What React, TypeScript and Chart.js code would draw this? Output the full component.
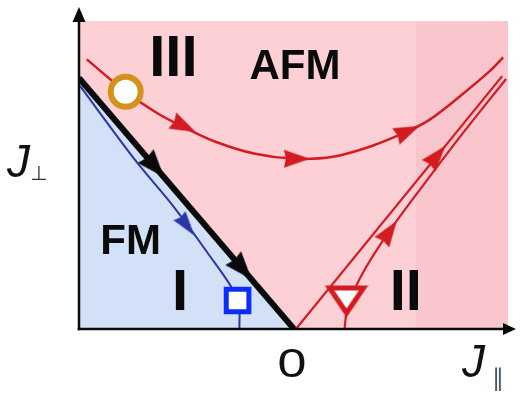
import React, { useEffect, useRef } from "react";
import { Chart, registerables } from "chart.js";

Chart.register(...registerables);

// ---- axis ranges (J_parallel horizontal, J_perp vertical) ----
const X_MIN = -1.105;
const X_MAX = 1.1;
const Y_MIN = 0;
const Y_MAX = 1.565;
const BAND_START = 0.625;

// ---- separatrix between FM and AFM (thick black line) ----
const separatrixX = [-1.105, 0];
const separatrixY = [1.275, 0];

// ---- flow in region I (blue) ----
const flowIX = [-1.1, -0.81, -0.625, -0.45, -0.29, -0.28];
const flowIY = [1.235, 0.85, 0.63, 0.395, 0.155, 0];

// ---- flow in region III (red curve) ----
const flowIIIX = [-1.065, -0.865, -0.7, -0.565, -0.4, -0.2, 0, 0.2, 0.4, 0.585, 0.7, 0.85, 1.0, 1.075];
const flowIIIY = [1.37, 1.205, 1.095, 1.025, 0.95, 0.89, 0.865, 0.875, 0.93, 1.005, 1.065, 1.18, 1.305, 1.38];

// ---- line from origin in region II ----
const criticalX = [0.01, 1.07];
const criticalY = [0, 1.285];

// ---- flow in region II (red hyperbola) ----
const flowIIX = [0.26, 0.27, 0.29, 0.335, 0.41, 0.51, 0.66, 0.86, 1.09];
const flowIIY = [0, 0.085, 0.15, 0.25, 0.3775, 0.525, 0.725, 0.985, 1.27];

// ---- arrows (position + direction in degrees clockwise from up) ----
const blackArrowX = [-0.715, -0.265];
const blackArrowY = [0.825, 0.306];
const blackArrowRot = [139, 139];
const blueArrowX = [-0.55];
const blueArrowY = [0.525];
const blueArrowRot = [143];
const redArrowX = [-0.565, 0.015, 0.585, 0.49, 0.735];
const redArrowY = [1.03, 0.865, 1.005, 0.495, 0.88];
const redArrowRot = [116, 90, 66, 35, 40];

// ---- fixed-point markers ----
const circleX = [-0.865];
const circleY = [1.205];
const squareX = [-0.29];
const squareY = [0.145];
const triangleX = [0.27];
const triangleY = [0.145];

// ---- labels ----
const regionLabels = ["III", "AFM", "FM", "I", "II"];
const regionLabelX = [-0.62, 0.005, -0.84, -0.585, 0.575];
const regionLabelY = [1.285, 1.27, 0.38, 0.095, 0.095];
const regionLabelSize = [58, 42, 42, 58, 58];
const originLabel = "0";

const RED = "#d21c22";
const BLACK = "#0a0a0a";
const BLUE_LINE = "#2c36a6";
const BLUE_SQ = "#0b2cff";
const ORANGE = "#d6901c";
const PINK = "#fdd0d5";
const PINK_DARK = "#fac6cd";
const BLUE_BG = "#d2e1f8";
const FONT = "'Liberation Sans', Arial, Helvetica, sans-serif";

const pts = (xs: number[], ys: number[]) => xs.map((v, i) => ({ x: v, y: ys[i] }));

function arrowHead(color: string, len: number, wid: number): HTMLCanvasElement {
  const c = document.createElement("canvas");
  c.width = wid + 2;
  c.height = len + 2;
  const g = c.getContext("2d")!;
  g.fillStyle = color;
  g.beginPath();
  g.moveTo(c.width / 2, 1);
  g.lineTo(c.width - 1, c.height - 1);
  g.lineTo(c.width / 2, c.height - 3);
  g.lineTo(1, c.height - 1);
  g.closePath();
  g.fill();
  return c;
}

function downTriangle(): HTMLCanvasElement {
  const c = document.createElement("canvas");
  c.width = 44;
  c.height = 37;
  const g = c.getContext("2d")!;
  g.lineWidth = 5;
  g.lineJoin = "miter";
  g.strokeStyle = RED;
  g.fillStyle = "#ffffff";
  g.beginPath();
  g.moveTo(5, 6);
  g.lineTo(39, 6);
  g.lineTo(22, 31);
  g.closePath();
  g.fill();
  g.stroke();
  return c;
}

const overlay = {
  id: "overlay",
  afterDatasetsDraw(chart: any) {
    const { ctx, chartArea: a, scales } = chart;
    const xs = scales.x;
    const ys = scales.y;
    ctx.save();
    // axes
    ctx.strokeStyle = BLACK;
    ctx.fillStyle = BLACK;
    ctx.lineWidth = 2.5;
    ctx.beginPath();
    ctx.moveTo(a.left, a.bottom + 1.25);
    ctx.lineTo(a.left, a.top);
    ctx.stroke();
    ctx.beginPath();
    ctx.moveTo(a.left, a.top - 14);
    ctx.lineTo(a.left + 6.5, a.top + 1);
    ctx.lineTo(a.left - 6.5, a.top + 1);
    ctx.closePath();
    ctx.fill();
    ctx.beginPath();
    ctx.moveTo(a.left - 1.25, a.bottom);
    ctx.lineTo(a.right - 3, a.bottom);
    ctx.stroke();
    ctx.beginPath();
    ctx.moveTo(a.right + 8, a.bottom);
    ctx.lineTo(a.right - 5, a.bottom - 6);
    ctx.lineTo(a.right - 5, a.bottom + 6);
    ctx.closePath();
    ctx.fill();

    // region labels
    ctx.textAlign = "center";
    ctx.textBaseline = "alphabetic";
    regionLabels.forEach((t, i) => {
      ctx.font = `bold ${regionLabelSize[i]}px ${FONT}`;
      ctx.fillText(t, xs.getPixelForValue(regionLabelX[i]), ys.getPixelForValue(regionLabelY[i]));
    });

    // origin label
    const ox = xs.getPixelForValue(0);
    const oy = ys.getPixelForValue(0);
    ctx.save();
    ctx.translate(ox - 2, oy + 48);
    ctx.scale(1.3, 1);
    ctx.font = `40px ${FONT}`;
    ctx.fillStyle = "#111";
    ctx.fillText(originLabel, 0, 0);
    ctx.restore();

    // axis titles
    ctx.textAlign = "left";
    ctx.fillStyle = "#111";
    ctx.font = `italic 46px ${FONT}`;
    ctx.fillText("J", a.right - 46, oy + 48);
    ctx.fillText("J", a.left - 72, ys.getPixelForValue(0.77));
    ctx.font = `24px 'DejaVu Sans', sans-serif`;
    ctx.fillStyle = "#4a5570";
    ctx.fillText("\u2225", a.right - 16, oy + 57);
    ctx.fillStyle = "#333";
    ctx.font = `20px 'DejaVu Sans', sans-serif`;
    ctx.fillText("\u22A5", a.left - 49, ys.getPixelForValue(0.77) + 3);
    ctx.restore();
  },
};

export default function App() {
  const ref = useRef<HTMLCanvasElement>(null);
  useEffect(() => {
    document.body.style.margin = "0";
    const redHead = arrowHead(RED, 26, 18);
    const blackHead = arrowHead(BLACK, 28, 21);
    const blueHead = arrowHead(BLUE_LINE, 25, 15);
    const tri = downTriangle();
    const base = { pointRadius: 0, fill: false as any, showLine: true };
    const chart = new Chart(ref.current!, {
      type: "line",
      data: {
        datasets: [
          { ...base, data: pts([X_MIN, X_MAX], [Y_MAX, Y_MAX]), fill: "origin", backgroundColor: PINK, borderWidth: 0, order: 20 } as any,
          { ...base, data: pts([BAND_START, X_MAX], [Y_MAX, Y_MAX]), fill: "origin", backgroundColor: PINK_DARK, borderWidth: 0, order: 19 } as any,
          { ...base, data: pts(separatrixX, separatrixY), fill: "origin", backgroundColor: BLUE_BG, borderWidth: 0, order: 18 } as any,
          { ...base, data: pts(flowIX, flowIY), borderColor: BLUE_LINE, borderWidth: 2, tension: 0.3, order: 10 } as any,
          { ...base, data: pts(flowIIIX, flowIIIY), borderColor: RED, borderWidth: 2.5, tension: 0.35, order: 10 } as any,
          { ...base, data: pts(criticalX, criticalY), borderColor: RED, borderWidth: 2.2, order: 10 } as any,
          { ...base, data: pts(flowIIX, flowIIY), borderColor: RED, borderWidth: 2.2, tension: 0.3, order: 10 } as any,
          { ...base, data: pts(separatrixX, separatrixY), borderColor: BLACK, borderWidth: 6, order: 8 } as any,
          { data: pts(blackArrowX, blackArrowY), showLine: false, pointStyle: blackHead, pointRadius: 10, pointRotation: blackArrowRot, order: 5 } as any,
          { data: pts(blueArrowX, blueArrowY), showLine: false, pointStyle: blueHead, pointRadius: 10, pointRotation: blueArrowRot, order: 5 } as any,
          { data: pts(redArrowX, redArrowY), showLine: false, pointStyle: redHead, pointRadius: 10, pointRotation: redArrowRot, order: 5 } as any,
          { data: pts(circleX, circleY), showLine: false, pointStyle: "circle", pointRadius: 15, pointBorderWidth: 6, pointBorderColor: ORANGE, pointBackgroundColor: "#ffffff", order: 1 } as any,
          { data: pts(squareX, squareY), showLine: false, pointStyle: "rect", pointRadius: 16, pointBorderWidth: 5, pointBorderColor: BLUE_SQ, pointBackgroundColor: "#ffffff", order: 1 } as any,
          { data: pts(triangleX, triangleY), showLine: false, pointStyle: tri, pointRadius: 10, order: 1 } as any,
        ],
      },
      options: {
        responsive: false,
        animation: false,
        devicePixelRatio: 1,
        events: [],
        layout: { padding: { left: 79, right: 9, top: 16, bottom: 65 } },
        scales: {
          x: { type: "linear", min: X_MIN, max: X_MAX, display: false },
          y: { type: "linear", min: Y_MIN, max: Y_MAX, display: false },
        },
        elements: { point: { radius: 0 } },
        plugins: { legend: { display: false }, tooltip: { enabled: false } },
      },
      plugins: [overlay],
    } as any);
    return () => chart.destroy();
  }, []);
  return <canvas ref={ref} width={529} height={394} style={{ display: "block", width: 529, height: 394 }} />;
}
